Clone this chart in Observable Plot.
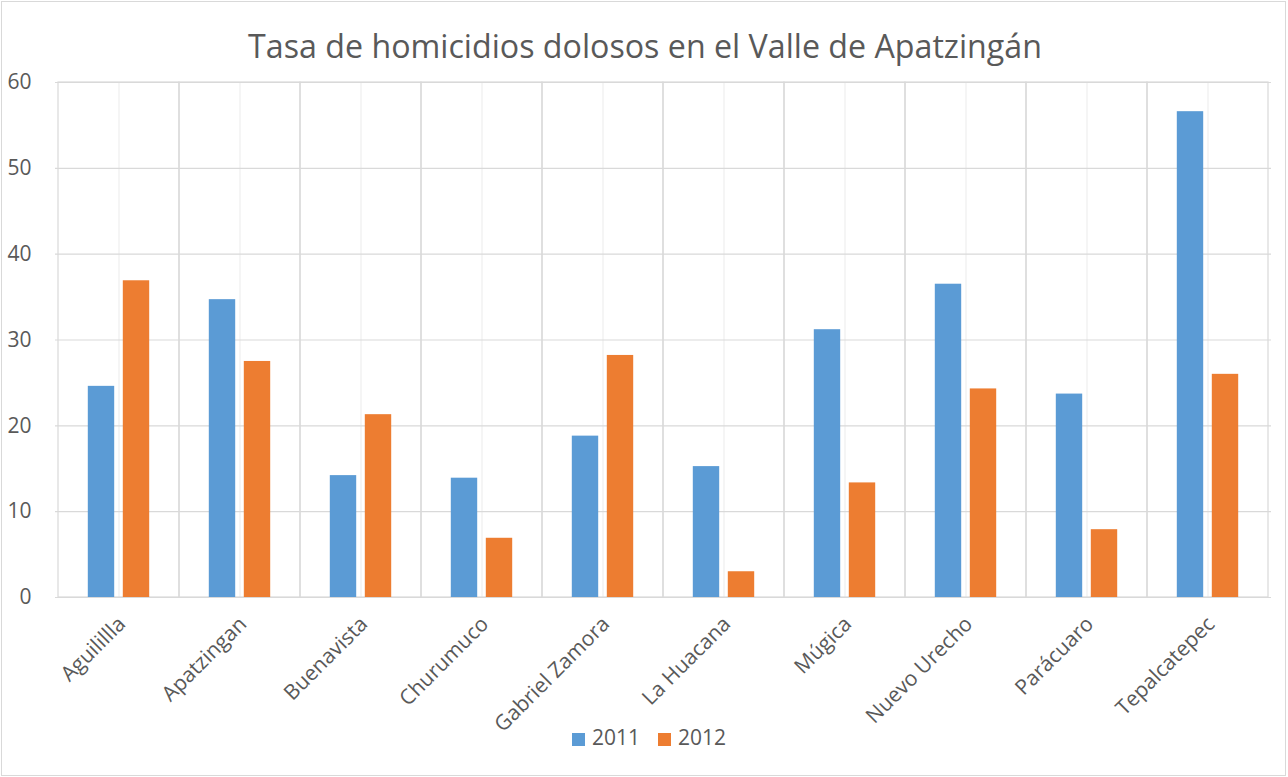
<!DOCTYPE html>
<html>
<head>
<meta charset="utf-8">
<script src="https://cdn.jsdelivr.net/npm/d3@7"></script>
<script src="https://cdn.jsdelivr.net/npm/@observablehq/plot@0.6"></script>
<style>
  html, body { margin: 0; padding: 0; background: #fff; }
  #wrap { position: relative; width: 1288px; height: 777px; font-family: "Open Sans", sans-serif; color: #595959; overflow: hidden; }
  #border { position: absolute; left: 1px; top: 1px; width: 1285px; height: 775px; box-sizing: border-box; border: 1px solid #d9d9d9; pointer-events: none; }
  #title { height: 70px; box-sizing: border-box; padding-top: 30px; font-size: 32.2px; line-height: 32.2px; text-align: center; padding-left: 2px; white-space: nowrap; }
  #legend { height: 50px; display: flex; justify-content: center; align-items: flex-start; font-size: 21px; line-height: 21px; padding-left: 10px; box-sizing: border-box; }
  .item { display: flex; align-items: center; margin: 0 9px; }
  .sw { width: 13px; height: 13px; margin-right: 7px; margin-top: 4px; }
</style>
</head>
<body>
<div id="wrap">
  <div id="title"></div>
  <div id="chart"></div>
  <div id="legend"></div>
  <div id="border"></div>
</div>
<script>
const chartTitle = "Tasa de homicidios dolosos en el Valle de Apatzingán";
const categories = ["Aguilillla", "Apatzingan", "Buenavista", "Churumuco", "Gabriel Zamora", "La Huacana", "Múgica", "Nuevo Urecho", "Parácuaro", "Tepalcatepec"];
const series = ["2011", "2012"];
const values2011 = [24.6, 34.7, 14.2, 13.9, 18.8, 15.25, 31.2, 36.5, 23.7, 56.6];
const values2012 = [36.9, 27.5, 21.3, 6.9, 28.2, 3.0, 13.35, 24.3, 7.9, 26.0];
const yTicks = [0, 10, 20, 30, 40, 50, 60];
const colors = ["#5B9BD5", "#ED7D31"];

const rows2011 = categories.map((c, i) => ({category: c, year: series[0], value: values2011[i]}));
const rows2012 = categories.map((c, i) => ({category: c, year: series[1], value: values2012[i]}));

document.getElementById("title").textContent = chartTitle;

const plot = Plot.plot({
  width: 1288,
  height: 657,
  marginTop: 12,
  marginBottom: 130,
  marginLeft: 55,
  marginRight: 17,
  style: {fontFamily: "'Open Sans', sans-serif", fontSize: "21px", color: "#595959", background: "transparent", overflow: "visible"},
  x: {domain: categories, padding: 0, label: null},
  y: {domain: [0, 60], label: null},
  marks: [
    Plot.gridX({stroke: "#efefef", strokeOpacity: 1, strokeWidth: 1.2}),
    Plot.barY(categories, {x: d => d, y1: 0, y2: 60, fill: "none", stroke: "#d9d9d9", strokeWidth: 1.2}),
    Plot.ruleY(yTicks, {stroke: "#d9d9d9", strokeWidth: 1.2}),
    Plot.barY(rows2011, {x: "category", y: "value", fill: colors[0], insetLeft: 29.8, insetRight: 64.8}),
    Plot.barY(rows2012, {x: "category", y: "value", fill: colors[1], insetLeft: 64.8, insetRight: 29.8}),
    Plot.axisY({ticks: yTicks, tickSize: 0, tickPadding: 24, fontSize: 21}),
    Plot.axisX({tickSize: 0, tickPadding: 23, dx: 3, tickRotate: -45, fontSize: 21})
  ]
});
document.getElementById("chart").appendChild(plot);

const legend = document.getElementById("legend");
series.forEach((s, i) => {
  const item = document.createElement("div");
  item.className = "item";
  const sw = document.createElement("div");
  sw.className = "sw";
  sw.style.background = colors[i];
  const label = document.createElement("span");
  label.textContent = s;
  item.appendChild(sw);
  item.appendChild(label);
  legend.appendChild(item);
});
</script>
</body>
</html>
